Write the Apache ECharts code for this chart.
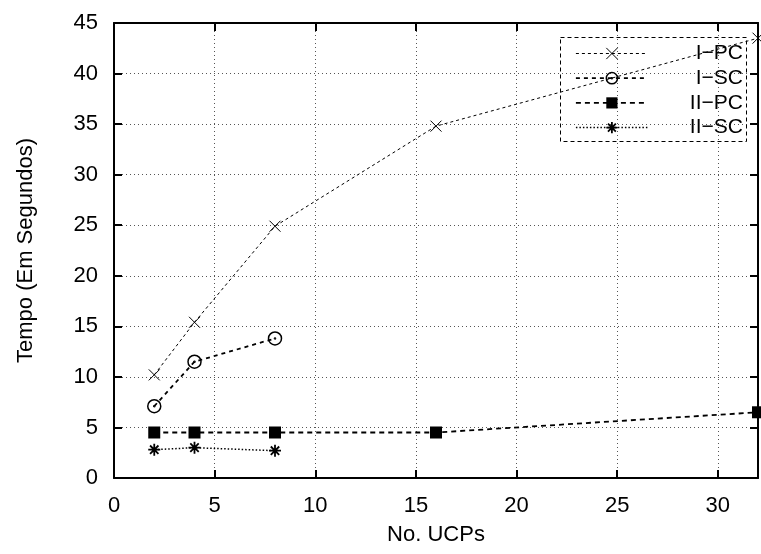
<!DOCTYPE html>
<html><head><meta charset="utf-8">
<script src="https://cdn.jsdelivr.net/npm/echarts@6/dist/echarts.min.js"></script>
<style>html,body{margin:0;padding:0;background:#fff}#c{width:761px;height:554px}</style>
</head><body><div id="c"></div>
<script>
const seriesNames = ['I\u2212PC', 'I\u2212SC', 'II\u2212PC', 'II\u2212SC'];
const xIPC = [2, 4, 8, 16, 32];
const yIPC = [10.2, 15.4, 24.9, 34.8, 43.5];
const xISC = [2, 4, 8];
const yISC = [7.1, 11.5, 13.8];
const xIIPC = [2, 4, 8, 16, 32];
const yIIPC = [4.5, 4.5, 4.5, 4.5, 6.5];
const xIISC = [2, 4, 8];
const yIISC = [2.8, 3.0, 2.7];
const xTicks = [0, 5, 10, 15, 20, 25, 30];
const yTicks = [0, 5, 10, 15, 20, 25, 30, 35, 40, 45];

const pairs = (xs, ys) => xs.map((x, i) => [x, ys[i]]);
const FONT = 'Liberation Sans, Arial, sans-serif';

const crossPath = 'path://M0,0L10,10M10,0L0,10';
const circDotPath = 'path://M10,5A5,5,0,1,1,0,5A5,5,0,1,1,10,5ZM5.4,5A0.4,0.4,0,1,1,4.6,5A0.4,0.4,0,1,1,5.4,5Z';
const starPath = 'path://M5,0L5,10M0,5L10,5M1.5,1.5L8.5,8.5M8.5,1.5L1.5,8.5';

const styles = [
  {line: {color: '#000', width: 1, type: [3, 3]}, item: {color: 'none', borderColor: '#000', borderWidth: 1}, symbol: crossPath, size: 11},
  {line: {color: '#000', width: 1.8, type: [4, 4]}, item: {color: 'none', borderColor: '#000', borderWidth: 1.5}, symbol: circDotPath, size: 13},
  {line: {color: '#000', width: 1.8, type: [5, 4]}, item: {color: '#000', borderColor: '#000', borderWidth: 0}, symbol: 'rect', size: 12},
  {line: {color: '#000', width: 1.5, type: [1.5, 2]}, item: {color: 'none', borderColor: '#000', borderWidth: 1.8}, symbol: starPath, size: 12}
];

const chart = echarts.init(document.getElementById('c'), null, {renderer: 'canvas'});
const axisBase = {
  type: 'value',
  axisLine: {show: true, onZero: false, lineStyle: {color: '#000', width: 2}},
  axisTick: {show: true, inside: true, length: 8, lineStyle: {color: '#000', width: 2}},
};
const lblStyle = {fontFamily: FONT, fontSize: 22, color: '#000'};
chart.setOption({
  animation: false,
  backgroundColor: '#fff',
  grid: {left: 114, right: 3, top: 23, bottom: 76, containLabel: false},
  legend: {
    orient: 'vertical',
    left: 575, top: 43,
    itemWidth: 72, itemHeight: 14, itemGap: 3.7,
    padding: 0,
    formatter: n => '{a|' + n + '}',
    textStyle: {fontFamily: FONT, fontSize: 21, color: '#000', lineHeight: 14,
      rich: {a: {fontFamily: FONT, fontSize: 21, color: '#000', width: 90, align: 'right', lineHeight: 14}}},
    data: seriesNames.map((n, i) => ({name: n, lineStyle: styles[i].line, itemStyle: styles[i].item}))
  },
  graphic: [{
    type: 'rect', left: 558, top: 35, shape: {width: 186, height: 104},
    style: {fill: 'none', stroke: '#000', lineWidth: 1, lineDash: [4, 3]}, z: 100
  }],
  xAxis: [
    Object.assign({}, axisBase, {
      min: 0, max: 32, interval: 5, position: 'bottom',
      name: 'No. UCPs', nameLocation: 'middle', nameGap: 46,
      nameTextStyle: lblStyle,
      axisLabel: Object.assign({}, lblStyle, {margin: 17, showMaxLabel: false,
        formatter: v => xTicks.includes(v) ? String(v) : ''}),
      splitLine: {show: true, lineStyle: {color: '#555', width: 1, type: [1, 3]}}
    }),
    Object.assign({}, axisBase, {
      min: 0, max: 32, interval: 5, position: 'top',
      axisLabel: {show: false}, splitLine: {show: false}
    })
  ],
  yAxis: [
    Object.assign({}, axisBase, {
      min: 0, max: 45, interval: 5, position: 'left',
      name: 'Tempo (Em Segundos)', nameLocation: 'middle', nameGap: 77, nameRotate: 90,
      nameTextStyle: lblStyle,
      axisLabel: Object.assign({}, lblStyle, {margin: 16,
        formatter: v => yTicks.includes(v) ? String(v) : ''}),
      splitLine: {show: true, lineStyle: {color: '#555', width: 1, type: [1, 3]}}
    }),
    Object.assign({}, axisBase, {
      min: 0, max: 45, interval: 5, position: 'right',
      axisLabel: {show: false}, splitLine: {show: false}
    })
  ],
  series: [
    [xIPC, yIPC], [xISC, yISC], [xIIPC, yIIPC], [xIISC, yIISC]
  ].map((d, i) => ({
    name: seriesNames[i], type: 'line', data: pairs(d[0], d[1]),
    symbol: styles[i].symbol, symbolSize: styles[i].size,
    lineStyle: styles[i].line, itemStyle: styles[i].item
  }))
});
</script></body></html>
